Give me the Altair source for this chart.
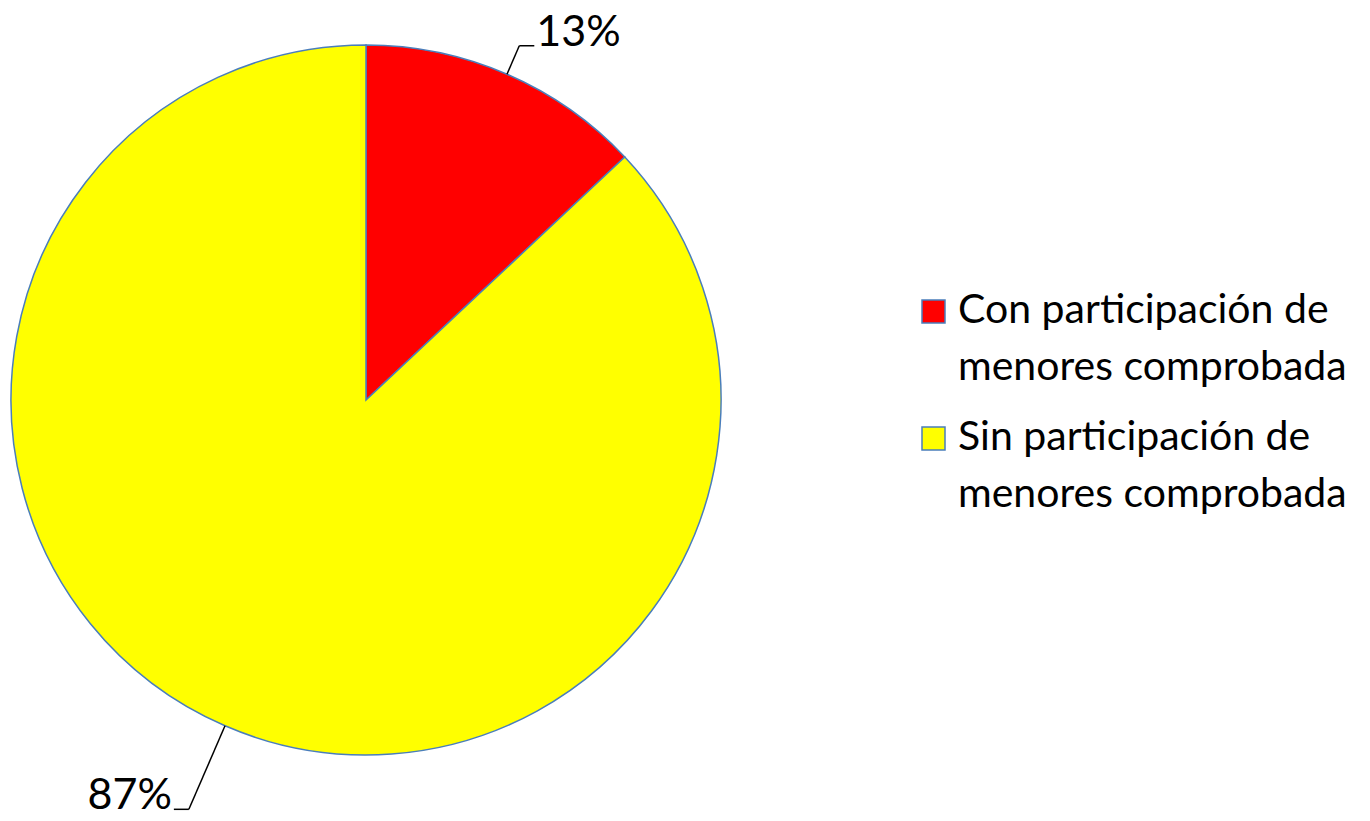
import altair as alt
import pandas as pd

categories = ["Con participación de\nmenores comprobada", "Sin participación de\nmenores comprobada"]
values = [13, 87]
pct_labels = ["13%", "87%"]
colors = ["#FF0000", "#FFFF00"]

df = pd.DataFrame({"cat": categories, "val": values, "lab": pct_labels, "ord": [0, 1]})

CX, CY, R = 358, 392, 355
STROKE = "#4A7EBB"
FONT = "Lato"

base = alt.Chart(df)

pie = base.mark_arc(outerRadius=R, stroke=STROKE, strokeWidth=1.5).encode(
    theta=alt.Theta("val:Q", stack=True),
    color=alt.Color("cat:N", scale=alt.Scale(domain=categories, range=colors), legend=None),
    order=alt.Order("ord:Q"),
    x=alt.value(CX),
    y=alt.value(CY),
)

geo = (
    base.transform_joinaggregate(total="sum(val)")
    .transform_window(cum="sum(val)", sort=[alt.SortField("ord")], frame=[None, 0])
    .transform_calculate(mid="2*PI*(datum.cum - datum.val/2)/datum.total")
    .transform_calculate(
        ex=f"{CX} + {R}*sin(datum.mid)",
        ey=f"{CY} - {R}*cos(datum.mid)",
        re="datum.mid < PI ? 386 : 446",
        side="datum.mid < PI ? 1 : -1",
    )
    .transform_calculate(
        bx=f"{CX} + datum.re*sin(datum.mid)",
        by=f"{CY} - datum.re*cos(datum.mid)",
    )
    .transform_calculate(
        tx="datum.bx + datum.side*15",
        lx="datum.bx + datum.side*17",
    )
)

lead1 = geo.mark_rule(color="black", strokeWidth=1.5).encode(
    x=alt.X("ex:Q", scale=None), y=alt.Y("ey:Q", scale=None),
    x2="bx:Q", y2="by:Q",
)
lead2 = geo.mark_rule(color="black", strokeWidth=1.5).encode(
    x=alt.X("bx:Q", scale=None), y=alt.Y("by:Q", scale=None),
    x2="tx:Q", y2="by:Q",
)
txt_r = geo.transform_filter("datum.side > 0").mark_text(
    align="left", baseline="alphabetic", font=FONT, fontSize=43, color="black"
).encode(x=alt.X("lx:Q", scale=None), y=alt.Y("by:Q", scale=None), text="lab:N")
txt_l = geo.transform_filter("datum.side < 0").mark_text(
    align="right", baseline="alphabetic", font=FONT, fontSize=43, color="black"
).encode(x=alt.X("lx:Q", scale=None), y=alt.Y("by:Q", scale=None), text="lab:N")

leg = base.transform_calculate(
    sy="303.5 + datum.ord*127",
    ty="315 + datum.ord*127",
)
leg_sw = leg.mark_square(size=529, stroke=STROKE, strokeWidth=1.5, opacity=1).encode(
    x=alt.value(925.5),
    y=alt.Y("sy:Q", scale=None),
    color=alt.Color("cat:N", scale=alt.Scale(domain=categories, range=colors), legend=None),
)
leg_tx = leg.mark_text(
    align="left", baseline="alphabetic", font=FONT, fontSize=41, lineBreak="\n",
    lineHeight=57, color="black"
).encode(
    x=alt.value(950),
    y=alt.Y("ty:Q", scale=None),
    text="cat:N",
)

chart = alt.layer(pie, lead1, lead2, txt_r, txt_l, leg_sw, leg_tx).properties(
    width=1354, height=805, autosize=alt.AutoSizeParams(type="none"), padding=0
).configure_view(stroke=None)

chart.save("out.html", embed_options={"renderer": "svg", "actions": False})
